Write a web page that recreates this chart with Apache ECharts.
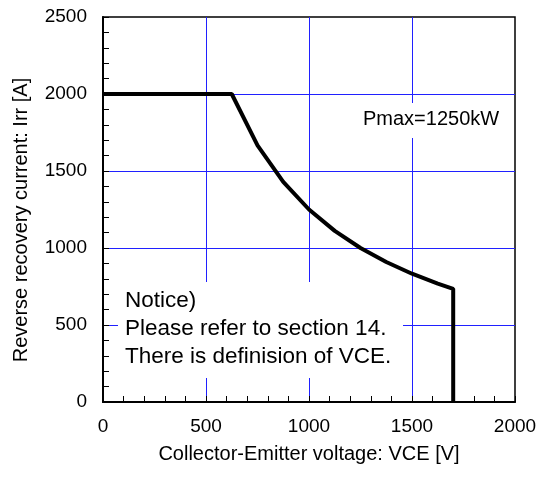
<!DOCTYPE html>
<html><head><meta charset="utf-8">
<script src="https://cdn.jsdelivr.net/npm/echarts@6/dist/echarts.min.js"></script>
<style>html,body{margin:0;padding:0;background:#fff}#c{width:547px;height:479px}</style>
</head><body><div id="c"></div>
<script>
var vce = [0, 625, 750, 875, 1000, 1125, 1250, 1375, 1500, 1625, 1700, 1700];
var irr = [2000, 2000, 1667, 1429, 1250, 1111, 1000, 909, 833, 769, 735, 0];
var xTicks = [0, 500, 1000, 1500, 2000];
var yTicks = [0, 500, 1000, 1500, 2000, 2500];
var noticeLines = ['Notice)', 'Please refer to section 14.', 'There is definision of VCE.'];
var pmaxLabel = 'Pmax=1250kW';
var xTitle = 'Collector-Emitter voltage: VCE [V]';
var yTitle = 'Reverse recovery current: Irr [A]';

var font = 'Liberation Sans, Arial, sans-serif';
var chart = echarts.init(document.getElementById('c'), null, {renderer: 'canvas'});
var pts = vce.map(function (v, i) { return [v, irr[i]]; });
function plain(v) { return String(v); }
chart.setOption({
  animation: false,
  backgroundColor: '#fff',
  grid: {left: 103, top: 17, width: 412, height: 385, show: true, borderColor: '#000', borderWidth: 1.5, containLabel: false},
  xAxis: {
    type: 'value', min: xTicks[0], max: xTicks[xTicks.length - 1], interval: 500,
    name: xTitle, nameLocation: 'middle', nameGap: 42,
    nameTextStyle: {fontFamily: font, fontSize: 20, color: '#000'},
    axisLine: {show: true, lineStyle: {color: '#000', width: 2}},
    axisTick: {show: true, inside: true, length: 6, lineStyle: {color: '#000', width: 1}},
    minorTick: {show: true, splitNumber: 5, length: 6, lineStyle: {color: '#000', width: 1}},
    splitLine: {show: true, showMinLine: false, showMaxLine: false, lineStyle: {color: '#2020ff', width: 1}},
    axisLabel: {fontFamily: font, fontSize: 19, color: '#000', margin: 15, formatter: plain}
  },
  yAxis: {
    type: 'value', min: yTicks[0], max: yTicks[yTicks.length - 1], interval: 500,
    axisLine: {show: true, lineStyle: {color: '#000', width: 2}},
    axisTick: {show: true, inside: true, length: 6, lineStyle: {color: '#000', width: 1}},
    minorTick: {show: true, splitNumber: 5, length: 6, lineStyle: {color: '#000', width: 1}},
    splitLine: {show: true, showMinLine: false, showMaxLine: false, lineStyle: {color: '#2020ff', width: 1}},
    axisLabel: {fontFamily: font, fontSize: 19, color: '#000', margin: 16, formatter: plain}
  },
  series: [{
    type: 'line', data: pts, showSymbol: false, symbol: 'none',
    lineStyle: {color: '#000', width: 4}, z: 5
  }],
  graphic: [
    {type: 'text', x: 21, y: 220, rotation: Math.PI / 2, z: 11,
     style: {text: yTitle, font: '20px ' + font, fill: '#000', align: 'center', verticalAlign: 'middle'}},
    {type: 'rect', left: 118, top: 282, shape: {width: 285, height: 96}, style: {fill: '#fff'}, z: 10},
    {type: 'text', left: 125, top: 287, z: 11, style: {text: noticeLines.join('\n'), font: '22.5px ' + font, fill: '#000', lineHeight: 28}},
    {type: 'rect', left: 356, top: 103, shape: {width: 150, height: 35}, style: {fill: '#fff'}, z: 10},
    {type: 'text', left: 363, top: 109, z: 11, style: {text: pmaxLabel, font: '20px ' + font, fill: '#000'}}
  ]
});
</script></body></html>
